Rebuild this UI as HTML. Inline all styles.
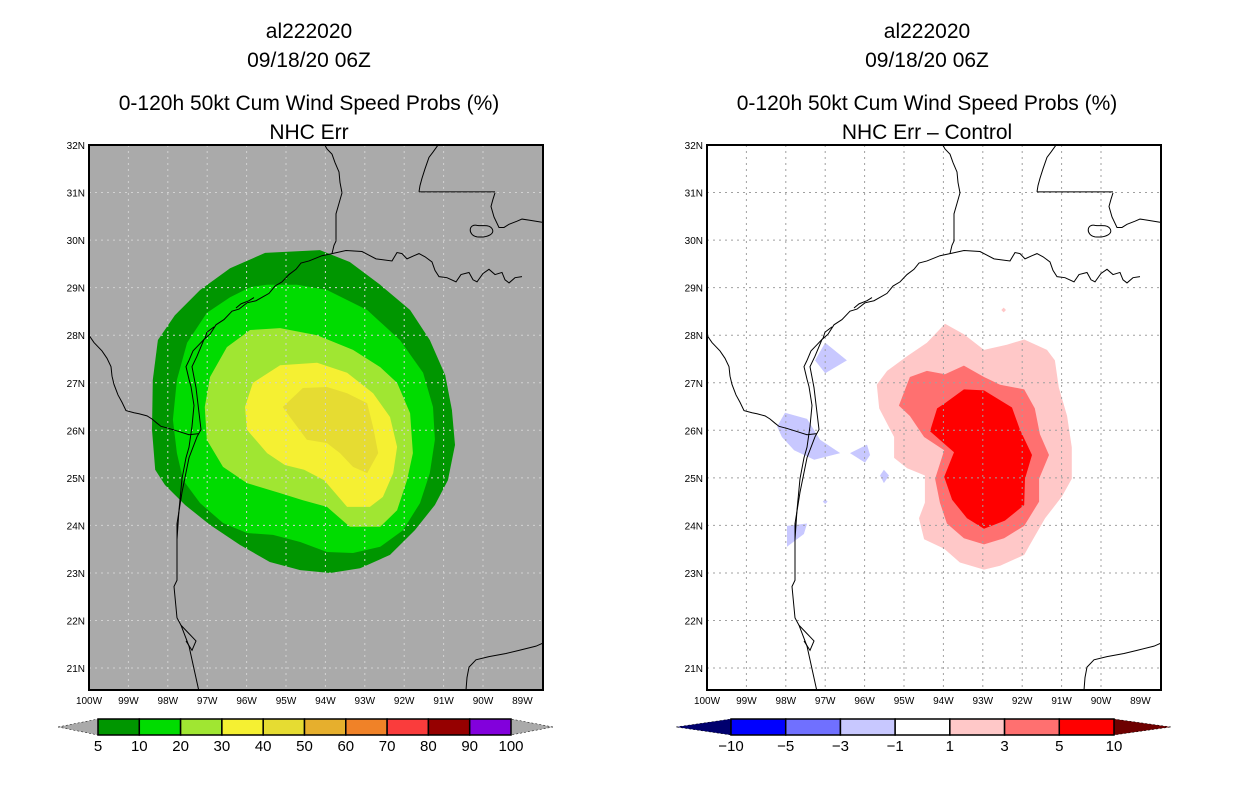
<!DOCTYPE html>
<html><head><meta charset="utf-8">
<style>
body{margin:0;background:#fff;width:1236px;height:800px;overflow:hidden;font-family:"Liberation Sans",sans-serif}
svg text{font-family:"Liberation Sans","DejaVu Sans",sans-serif}
</style></head>
<body>
<svg id="chart" width="1236" height="800" xmlns="http://www.w3.org/2000/svg">
<defs>
<clipPath id="clipL"><rect x="89" y="145" width="454" height="545"/></clipPath>
<clipPath id="clipR"><rect x="707" y="145" width="454" height="545"/></clipPath>
</defs>
<g font-size="21" text-anchor="middle" fill="#000">
<text x="309" y="38">al222020</text>
<text x="309" y="67">09/18/20 06Z</text>
<text x="309" y="110">0-120h 50kt Cum Wind Speed Probs (%)</text>
<text x="309" y="139">NHC Err</text>
</g>
<g font-size="21" text-anchor="middle" fill="#000">
<text x="927" y="38">al222020</text>
<text x="927" y="67">09/18/20 06Z</text>
<text x="927" y="110">0-120h 50kt Cum Wind Speed Probs (%)</text>
<text x="927" y="139">NHC Err – Control</text>
</g>
<g id="panelL"></g>
<g id="panelR"></g>
<g id="cbarL"></g>
<g id="cbarR"></g>
</svg>
<script>
const NS="http://www.w3.org/2000/svg";
const lonTicks=[100,99,98,97,96,95,94,93,92,91,90,89];
const latTicks=[32,31,30,29,28,27,26,25,24,23,22,21];
// Left panel contours (lon W, lat N)
const p5=[[95.53,29.73],[94.14,29.79],[93.38,29.54],[92.61,29.06],[91.85,28.53],[91.35,27.9],[90.96,27.16],[90.79,26.43],[90.71,25.69],[90.89,24.95],[91.22,24.43],[91.73,23.9],[92.36,23.38],[93.12,23.1],[93.88,23.0],[94.64,23.06],[95.41,23.23],[96.17,23.59],[96.93,24.01],[97.56,24.43],[98.07,24.85],[98.32,25.17],[98.4,26.01],[98.38,27.06],[98.25,27.9],[97.82,28.42],[97.18,28.95],[96.42,29.41]];
const p10=[[95.48,29.06],[94.72,29.06],[93.96,28.95],[92.94,28.53],[92.11,27.9],[91.52,27.21],[91.27,26.49],[91.22,25.8],[91.35,25.1],[91.6,24.47],[92.03,23.9],[92.61,23.55],[93.3,23.42],[93.96,23.44],[94.64,23.65],[95.33,23.8],[95.99,23.84],[96.6,24.05],[97.18,24.47],[97.61,24.95],[97.77,25.52],[97.87,26.22],[97.77,27.06],[97.51,27.84],[97.01,28.47],[96.42,28.8],[95.91,29.01]];
const p20=[[95.91,28.11],[95.15,28.15],[94.21,28.0],[93.3,27.69],[92.61,27.33],[92.18,27.0],[91.85,26.36],[91.78,25.52],[91.93,24.95],[92.18,24.32],[92.61,23.97],[93.38,23.97],[93.96,24.39],[94.57,24.53],[95.15,24.68],[95.99,24.89],[96.6,25.23],[97.01,25.8],[97.06,26.49],[96.93,27.12],[96.5,27.75]];
const p30=[[95.84,27.0],[95.15,27.37],[94.21,27.42],[93.45,27.21],[92.79,26.78],[92.36,26.28],[92.18,25.65],[92.28,25.1],[92.54,24.6],[92.87,24.39],[93.45,24.39],[94.03,24.95],[94.54,25.17],[95.03,25.27],[95.48,25.52],[95.99,26.01],[96.04,26.49]];
const p40=[[95.08,26.49],[94.57,26.89],[93.96,26.91],[93.45,26.78],[92.94,26.57],[92.79,26.07],[92.66,25.52],[92.94,25.1],[93.3,25.23],[93.63,25.52],[93.96,25.73],[94.47,25.8],[94.9,26.28]];
// Right panel difference contours
const d1=[[93.96,28.24],[93.48,28.02],[92.97,27.69],[92.39,27.80],[91.95,27.91],[91.37,27.69],[91.17,27.47],[91.07,26.90],[90.86,26.30],[90.74,25.64],[90.74,24.98],[90.99,24.61],[91.42,24.15],[91.8,23.60],[91.95,23.38],[92.56,23.15],[92.97,23.07],[93.58,23.22],[93.98,23.51],[94.49,23.71],[94.62,24.15],[94.47,24.48],[94.47,25.05],[94.92,25.20],[95.25,25.42],[95.25,25.86],[95.63,26.46],[95.69,26.96],[95.43,27.25],[94.92,27.56],[94.42,27.84]];
const d3=[[94.85,27.12],[94.42,27.25],[93.96,27.18],[93.48,27.36],[92.97,27.12],[92.56,26.96],[91.95,26.86],[91.68,26.46],[91.55,25.92],[91.32,25.48],[91.57,24.98],[91.57,24.50],[91.95,23.99],[92.46,23.73],[92.97,23.60],[93.48,23.73],[93.91,24.04],[94.09,24.48],[94.21,24.98],[93.98,25.58],[94.49,25.86],[94.85,26.30],[95.13,26.52]];
const d5=[[93.98,26.56],[93.48,26.86],[92.97,26.84],[92.26,26.48],[92.06,26.02],[91.75,25.48],[91.93,24.98],[91.95,24.43],[92.44,24.10],[92.97,23.93],[93.4,24.15],[93.78,24.54],[93.98,25.02],[93.73,25.54],[94.34,25.98],[94.16,26.46]];
const dPinkDot=[[92.53,28.53],[92.47,28.48],[92.41,28.53],[92.47,28.58]];
const nA=[[97.0,27.84],[96.45,27.47],[97.0,27.20],[97.26,27.47]];
const nB=[[98.02,26.37],[97.46,26.24],[97.13,25.80],[96.62,25.52],[97.28,25.38],[97.79,25.58],[98.1,25.86],[98.22,26.08]];
const nC=[[96.37,25.52],[95.94,25.70],[95.86,25.48],[95.99,25.32]];
const nD=[[95.51,25.17],[95.38,25.05],[95.51,24.89],[95.61,25.05]];
const nE=[[97.97,23.99],[97.46,24.04],[97.54,23.82],[97.97,23.55]];
const nF=[[97.0,24.55],[96.94,24.50],[97.0,24.45],[97.06,24.50]];
// colorbars
const cbLabelsL=["5","10","20","30","40","50","60","70","80","90","100"];
const cbColorsL=["#009600","#00dc00","#a0e632","#f5f032","#e6dc32","#e6af2d","#f08228","#fa3c3c","#960000","#8200dc"];
const cbLabelsR=["−10","−5","−3","−1","1","3","5","10"];
const cbColorsR=["#0000ff","#7070ff","#c8c8ff","#ffffff","#ffc8c8","#ff7070","#ff0000"];

const W=454,H=545,TOP=145;
function xS(ox,lon){return ox+(100-lon)*39.4;}
function yS(lat){return TOP+(32-lat)*47.55;}
function el(tag,attrs,parent){const e=document.createElementNS(NS,tag);for(const k in attrs)e.setAttribute(k,attrs[k]);parent.appendChild(e);return e;}
function poly(ox,pts){return pts.map(p=>xS(ox,p[0]).toFixed(1)+","+yS(p[1]).toFixed(1)).join(" ");}

const coast=[
"M115,545 L100,480 L92,460 L88,453 L85,423 L88,417 L88,363 L93,333 L100,300 L108,280 L112,273 L107,233 L103,213 L108,203 L115,187 L121,182 L127,173 L135,168 L143,160 L150,158 L158,152 L167,150 L180,143 L186,136 L193,132 L200,125 L207,120 L212,114 L220,112 L233,107 L243,105 L257,102 L273,103 L287,110 L303,112 L308,104 L313,105 L318,110 L325,107 L330,105 L336,108 L343,113 L346,121 L350,127 L358,128 L367,132 L372,125 L380,123 L384,130 L388,132 L394,124 L400,120 L406,125 L413,123 L416,130 L420,133 L426,128 L433,127",
"M243,105 L245,97 L247,93 L247,80 L247,67 L250,57 L253,47 L251,37 L250,27 L246,18 L243,10 L238,5 L235,0",
"M350,0 L344,8 L340,13 L336,24 L333,33 L331,40 L330,46",
"M406,47 L404,53 L402,60 L405,70 L410,80 L415,80 L420,77 L428,74 L433,72 L440,73 L453,75",
"M0,183 L5,190 L13,198 L18,205 L22,213 L23,222 L25,230 L29,240 L33,247 L37,255 L45,257 L50,258 L58,260 L63,263 L68,267 L72,270 L80,272 L90,275 L100,278 L110,277",
"M88,378 L90,350 L93,320 L97,300 L100,290 L103,270 L105,250 L102,232 L100,225 L97,213 L100,207",
"M100,207 L104,198 L110,192 L116,186 L118,180 L125,175",
"M147,157 L152,153 L160,150 L165,147",
"M377,522 L378,510 L380,500 L387,493 L400,490 L417,487 L430,484 L447,480 L454,477",
"M92,460 L100,468 L107,475 L103,484 L97,475",
"M388,78 C380,76 378,87 388,89 C398,90 408,86 402,80 C398,77 393,79 388,78 Z",
"M330,46 L406,46"];

function drawPanel(g,ox,bg,gridColor,fills,clip){
  el('rect',{x:ox,y:TOP,width:W,height:H,fill:bg},g);
  const cg=el('g',{'clip-path':'url(#'+clip+')'},g);
  fills.forEach(f=>{
    const p=el('polygon',{points:poly(ox,f.pts),fill:f.c},cg);
    
    
  });
  lonTicks.forEach(l=>{ if(l<100&&l>89){const x=xS(ox,l);
    const ln=el('line',{x1:x,y1:TOP,x2:x,y2:TOP+H,stroke:gridColor,'stroke-width':1,'stroke-dasharray':'2,4'},cg);
    
    }});
  latTicks.forEach(l=>{ if(l<32){const y=yS(l);
    const ln=el('line',{x1:ox,y1:y,x2:ox+W,y2:y,stroke:gridColor,'stroke-width':1,'stroke-dasharray':'2,4'},cg);
    
    }});
  const cst=el('g',{transform:'translate('+ox+','+(TOP-1.3)+') scale(1,1.0468)',fill:'none',stroke:'#000','stroke-width':1},cg);
  
  
  coast.forEach(d=>el('path',{d:d,'vector-effect':'non-scaling-stroke'},cst));
  el('rect',{x:ox,y:TOP,width:W,height:H,fill:'none',stroke:'#000','stroke-width':2},g);
  lonTicks.forEach(l=>{const t=el('text',{x:xS(ox,l),y:TOP+H+14,'font-size':10,'text-anchor':'middle'},g);t.textContent=l+'W';
    
    });
  latTicks.forEach(l=>{const t=el('text',{x:ox-4,y:yS(l)+4,'font-size':10,'text-anchor':'end'},g);t.textContent=l+'N';
    
    });
}
drawPanel(document.getElementById('panelL'),89,'#aaaaaa','#d2d2d2',[
 {pts:p5,c:'#009600',n:'contour-5'},{pts:p10,c:'#00dc00',n:'contour-10'},{pts:p20,c:'#a0e632',n:'contour-20'},{pts:p30,c:'#f5f032',n:'contour-30'},{pts:p40,c:'#e6dc32',n:'contour-40'}],'clipL');
drawPanel(document.getElementById('panelR'),707,'#ffffff','#a0a0a0',[
 {pts:d1,c:'#ffc8c8',n:'diff-1-3'},{pts:d3,c:'#ff7070',n:'diff-3-5'},{pts:d5,c:'#ff0000',n:'diff-5-10'},{pts:dPinkDot,c:'#ffc8c8',n:'diff-dot'},
 {pts:nA,c:'#c8c8ff',n:'neg-blob-a'},{pts:nB,c:'#c8c8ff',n:'neg-blob-b'},{pts:nC,c:'#c8c8ff',n:'neg-blob-c'},{pts:nD,c:'#c8c8ff',n:'neg-blob-d'},{pts:nE,c:'#c8c8ff',n:'neg-blob-e'},{pts:nF,c:'#c8c8ff',n:'neg-blob-f'}],'clipR');

function cbar(g,x0,x1,tipL,tipR,colors,labels,triL,triR){
  const y0=719,y1=735,ym=727,n=colors.length,w=(x1-x0)/n;
  const a=el('polygon',{points:tipL+','+ym+' '+x0+','+y0+' '+x0+','+y1,fill:triL,stroke:'#000','stroke-width':0.5,'stroke-dasharray':'2,2'},g);
  
  
  const b=el('polygon',{points:tipR+','+ym+' '+x1+','+y0+' '+x1+','+y1,fill:triR,stroke:'#000','stroke-width':0.5,'stroke-dasharray':'2,2'},g);
  
  
  colors.forEach((c,i)=>{const r=el('rect',{x:x0+i*w,y:y0,width:w,height:y1-y0,fill:c,stroke:'#000','stroke-width':1.5},g);
    
    });
  labels.forEach((s,i)=>{const x=x0+i*w;
    const t=el('text',{x:x,y:751,'font-size':15,'text-anchor':'middle'},g);t.textContent=s;
    
    });
}
cbar(document.getElementById('cbarL'),98,511,58,553,cbColorsL,cbLabelsL,'#aaaaaa','#aaaaaa');
cbar(document.getElementById('cbarR'),731,1114,676,1171,cbColorsR,cbLabelsR,'#00006e','#6e0000');
</script>
</body></html>
